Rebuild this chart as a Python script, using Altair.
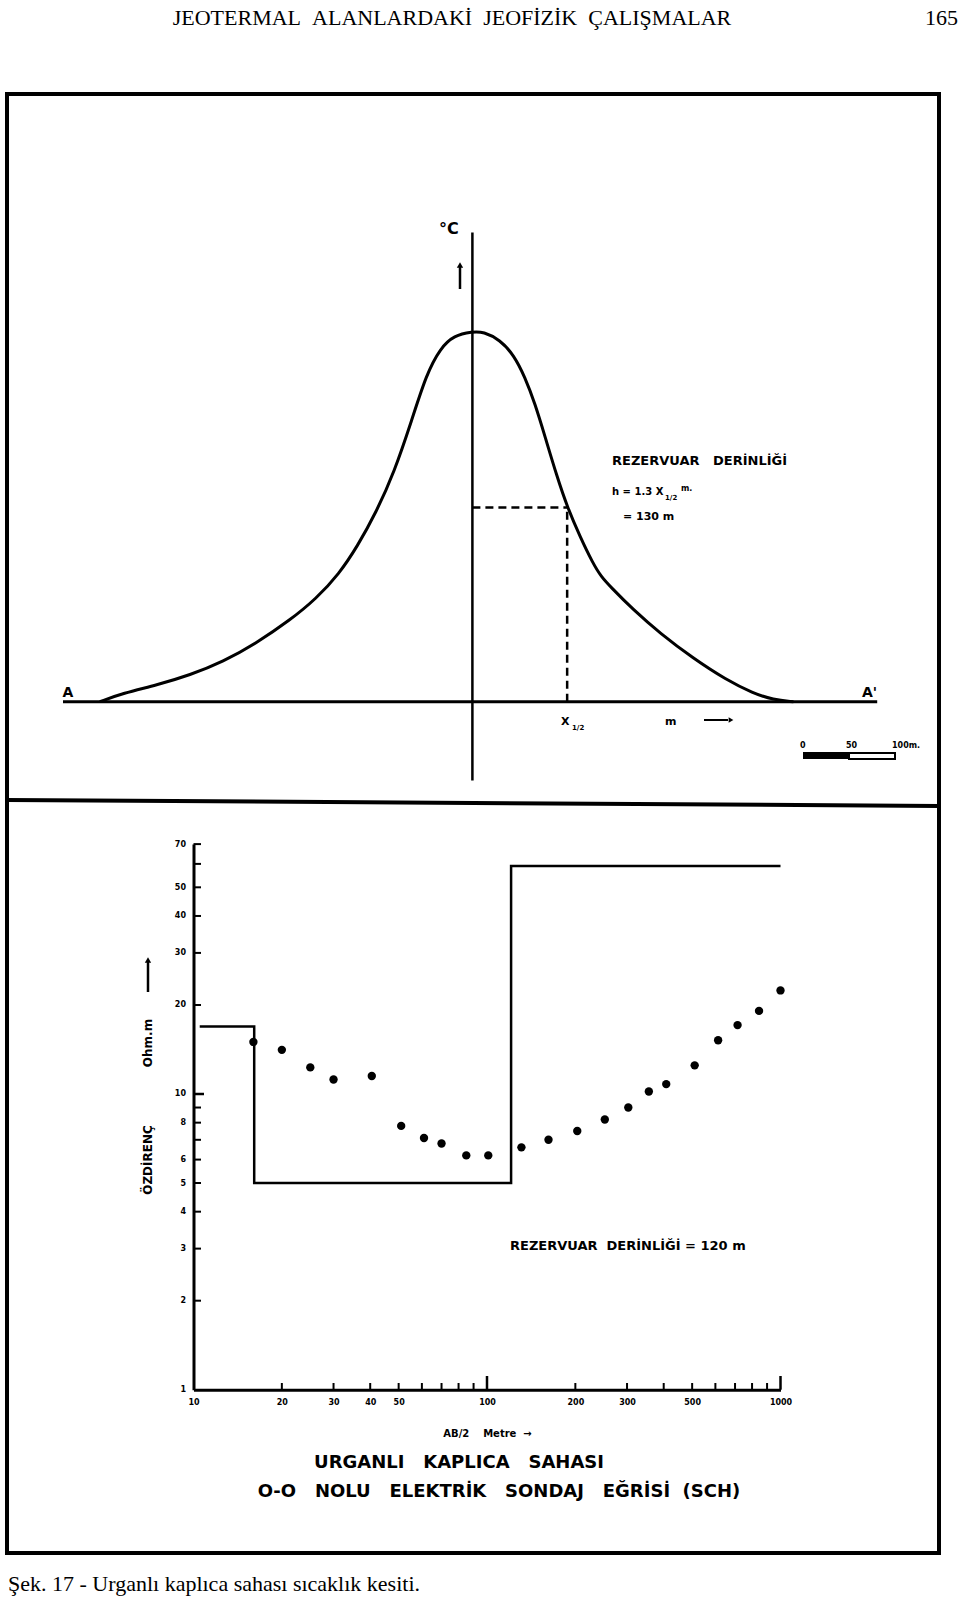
import altair as alt
import pandas as pd

NB = "\u00a0"

# ---------------- texts ----------------
header = f"JEOTERMAL{NB}{NB}ALANLARDAKİ{NB}{NB}JEOFİZİK{NB}{NB}ÇALIŞMALAR"
page_no = "165"
caption = "Şek. 17 - Urganlı kaplıca sahası sıcaklık kesiti."

# ---------------- top panel: temperature profile A-A' ----------------
curve_m = [-405, -380, -343, -307, -271, -235, -198, -170, -145, -125, -105, -85, -66, -50,
           -35, -20, 0, 12, 30, 45, 57, 68, 79, 92, 103, 117, 131, 140, 150, 175, 204, 240,
           276, 305, 327, 349]
curve_t = [0.0, 0.023, 0.045, 0.072, 0.108, 0.158, 0.221, 0.278, 0.345, 0.42, 0.51, 0.62,
           0.76, 0.885, 0.955, 0.99, 1.0, 1.0, 0.978, 0.937, 0.878, 0.806, 0.716, 0.608,
           0.527, 0.446, 0.374, 0.338, 0.311, 0.248, 0.185, 0.117, 0.059, 0.023, 0.005, 0.0]
x_half = 103
t_half = 0.525
profile_span = [-445, 440]
axis_t_span = [-0.213, 1.268]
scalebar_ticks = [0, 50, 100]
scalebar_labels = ["0", "50", "100m."]

# ---------------- bottom panel: VES curve ----------------
ab2 = [16, 20, 25, 30, 40.5, 51, 61, 70, 85, 101, 131, 162, 203, 252, 303, 356, 408, 510,
       613, 714, 845, 1000]
rho = [15.0, 14.1, 12.3, 11.2, 11.5, 7.8, 7.1, 6.8, 6.2, 6.2, 6.6, 7.0, 7.5, 8.2, 9.0, 10.2,
       10.8, 12.5, 15.2, 17.1, 19.1, 22.4]
model_x = [10.5, 16.1, 16.1, 120.8, 120.8, 1000]
model_y = [16.9, 16.9, 5.0, 5.0, 59, 59]
x_labels = [10, 20, 30, 40, 50, 100, 200, 300, 500, 1000]
y_labels = [1, 2, 3, 4, 5, 6, 8, 10, 20, 30, 40, 50, 70]
x_minor = [20, 30, 40, 50, 60, 70, 80, 90, 200, 300, 400, 500, 600, 700, 800, 900]
x_major = [100, 1000]
y_minor = [2, 3, 4, 5, 6, 7, 8, 9, 20, 30, 40, 50, 60, 70]

one = pd.DataFrame({"a": [0]})
FONT = "DejaVu Sans"

TX = alt.Scale(domain=[-500, 500], range=[12.4, 932.4], nice=False, zero=False)
TY = alt.Scale(domain=[0, 1], range=[701.7, 331.7], nice=False, zero=False)
SB = alt.Scale(domain=[0, 100], range=[803, 895], nice=False, zero=False)
BX = alt.Scale(type="log", domain=[10, 1000], range=[193.5, 780.5], nice=False)
BY = alt.Scale(type="log", domain=[1, 70], range=[1389.7, 844.1], nice=False)


def txt(s, x, y, size, font=FONT, weight="bold", align="left", baseline="alphabetic", angle=0):
    return alt.Chart(one).mark_text(
        text=s, font=font, fontSize=size, fontWeight=weight, align=align,
        baseline=baseline, angle=angle, color="black"
    ).encode(x=alt.value(x), y=alt.value(y))


def tri(x, y, shape, size=45):
    return alt.Chart(one).mark_point(shape=shape, filled=True, color="black", size=size,
                                     opacity=1).encode(x=alt.value(x), y=alt.value(y))


def vrule(x, y1, y2, w=2):
    return alt.Chart(one).mark_rule(color="black", strokeWidth=w).encode(
        x=alt.value(x), y=alt.value(y1), y2=alt.value(y2))


def hrule(x1, x2, y, w=2):
    return alt.Chart(one).mark_rule(color="black", strokeWidth=w).encode(
        x=alt.value(x1), x2=alt.value(x2), y=alt.value(y))


layers = []

# frame and divider
layers.append(alt.Chart(one).mark_rect(fillOpacity=0, stroke="black", strokeWidth=4).encode(
    x=alt.value(7), x2=alt.value(939), y=alt.value(94), y2=alt.value(1553)))
layers.append(alt.Chart(one).mark_rule(color="black", strokeWidth=4).encode(
    x=alt.value(7), x2=alt.value(939), y=alt.value(800), y2=alt.value(806)))

# header and caption
layers.append(txt(header, 452, 25, 22, font="Liberation Serif", weight="normal", align="center"))
layers.append(txt(page_no, 958, 25, 22, font="Liberation Serif", weight="normal", align="right"))
layers.append(txt(caption, 8, 1591, 22, font="Liberation Serif", weight="normal"))

# ---- top panel ----
curve_df = pd.DataFrame({"m": curve_m, "t": curve_t})
layers.append(alt.Chart(curve_df).mark_line(color="black", strokeWidth=3, interpolate="basis")
              .encode(x=alt.X("m:Q", scale=TX, axis=None), y=alt.Y("t:Q", scale=TY, axis=None)))

base_df = pd.DataFrame({"m0": [profile_span[0]], "m1": [profile_span[1]], "t": [0]})
layers.append(alt.Chart(base_df).mark_rule(color="black", strokeWidth=3).encode(
    x=alt.X("m0:Q", scale=TX, axis=None), x2="m1:Q", y=alt.Y("t:Q", scale=TY, axis=None)))

vax_df = pd.DataFrame({"m": [0], "t0": [axis_t_span[0]], "t1": [axis_t_span[1]]})
layers.append(alt.Chart(vax_df).mark_rule(color="black", strokeWidth=2.5).encode(
    x=alt.X("m:Q", scale=TX, axis=None), y=alt.Y("t0:Q", scale=TY, axis=None), y2="t1:Q"))

hd_df = pd.DataFrame({"m0": [0], "m1": [x_half], "t": [t_half]})
layers.append(alt.Chart(hd_df).mark_rule(color="black", strokeWidth=2.5, strokeDash=[8, 5]).encode(
    x=alt.X("m0:Q", scale=TX, axis=None), x2="m1:Q", y=alt.Y("t:Q", scale=TY, axis=None)))
vd_df = pd.DataFrame({"m": [x_half], "t0": [0], "t1": [t_half]})
layers.append(alt.Chart(vd_df).mark_rule(color="black", strokeWidth=2.5, strokeDash=[8, 5]).encode(
    x=alt.X("m:Q", scale=TX, axis=None), y=alt.Y("t0:Q", scale=TY, axis=None), y2="t1:Q"))

layers.append(txt("°C", 439, 234, 16))
layers.append(vrule(460, 289, 266, 2.5))
layers.append(tri(460, 265, "triangle-up", 40))
layers.append(txt("A", 68, 697, 14, align="center"))
layers.append(txt("A'", 862, 697, 14))
layers.append(txt("X", 561, 725, 11))
layers.append(txt("1/2", 572, 730, 7))
layers.append(txt("m", 665, 725, 11))
layers.append(hrule(704, 728, 720, 2))
layers.append(tri(731, 720, "triangle-right", 30))

layers.append(txt(f"REZERVUAR{NB}{NB}{NB}DERİNLİĞİ", 612, 465, 13))
layers.append(txt("h = 1.3 X", 612, 495, 10))
layers.append(txt("1/2", 665, 500, 7))
layers.append(txt("m.", 681, 491, 8))
layers.append(txt("= 130 m", 623, 520, 11))

# scale bar
sb1 = pd.DataFrame({"a": [0], "b": [50]})
layers.append(alt.Chart(sb1).mark_rect(color="black").encode(
    x=alt.X("a:Q", scale=SB, axis=None), x2="b:Q", y=alt.value(752), y2=alt.value(759)))
sb2 = pd.DataFrame({"a": [50], "b": [100]})
layers.append(alt.Chart(sb2).mark_rect(fillOpacity=0, stroke="black", strokeWidth=2).encode(
    x=alt.X("a:Q", scale=SB, axis=None), x2="b:Q", y=alt.value(753), y2=alt.value(759)))
sbl = pd.DataFrame({"v": scalebar_ticks, "lab": scalebar_labels})
layers.append(alt.Chart(sbl).mark_text(font=FONT, fontSize=8, fontWeight="bold", color="black",
                                       baseline="alphabetic", align="left", dx=-3).encode(
    x=alt.X("v:Q", scale=SB, axis=None), y=alt.value(748), text="lab:N"))

# ---- bottom panel ----
dots = pd.DataFrame({"ab2": ab2, "rho": rho})
layers.append(alt.Chart(dots).mark_circle(color="black", size=70, opacity=1).encode(
    x=alt.X("ab2:Q", scale=BX,
            axis=alt.Axis(orient="bottom", offset=-(1600 - 1389.7), values=x_labels,
                          format="~g", grid=False, ticks=False, tickSize=0,
                          domain=True, domainColor="black", domainWidth=3,
                          labelFont=FONT, labelFontWeight="bold", labelFontSize=8,
                          labelColor="black", labelPadding=9, labelFlush=False,
                          labelOverlap=False,
                          title=f"AB/2{NB}{NB}{NB}{NB}Metre{NB}{NB}→", titleFont=FONT,
                          titleFontSize=10, titleFontWeight="bold", titleColor="black",
                          titlePadding=22)),
    y=alt.Y("rho:Q", scale=BY,
            axis=alt.Axis(orient="left", offset=-193.5, values=y_labels, format="~g",
                          grid=False, ticks=False, tickSize=0, domain=True,
                          domainColor="black", domainWidth=3, labelFont=FONT,
                          labelFontWeight="bold", labelFontSize=8, labelColor="black",
                          labelPadding=8, labelFlush=False, labelOverlap=False, title=""))))

model = pd.DataFrame({"x": model_x, "y": model_y, "i": list(range(len(model_x)))})
layers.append(alt.Chart(model).mark_line(color="black", strokeWidth=2.5).encode(
    x=alt.X("x:Q", scale=BX, axis=None), y=alt.Y("y:Q", scale=BY, axis=None), order="i:Q"))

ytk = pd.DataFrame({"v": y_minor})
layers.append(alt.Chart(ytk).mark_rule(color="black", strokeWidth=2).encode(
    y=alt.Y("v:Q", scale=BY, axis=None), x=alt.value(193.5), x2=alt.value(201)))
ytk10 = pd.DataFrame({"v": [10]})
layers.append(alt.Chart(ytk10).mark_rule(color="black", strokeWidth=2.5).encode(
    y=alt.Y("v:Q", scale=BY, axis=None), x=alt.value(193.5), x2=alt.value(204)))
xtk = pd.DataFrame({"v": x_minor})
layers.append(alt.Chart(xtk).mark_rule(color="black", strokeWidth=2).encode(
    x=alt.X("v:Q", scale=BX, axis=None), y=alt.value(1389.7), y2=alt.value(1383)))
xtk2 = pd.DataFrame({"v": x_major})
layers.append(alt.Chart(xtk2).mark_rule(color="black", strokeWidth=2.5).encode(
    x=alt.X("v:Q", scale=BX, axis=None), y=alt.value(1389.7), y2=alt.value(1376)))

layers.append(txt("ÖZDİRENÇ", 148, 1160, 12, align="center", baseline="middle", angle=270))
layers.append(txt("Ohm.m", 148, 1043, 12, align="center", baseline="middle", angle=270))
layers.append(vrule(148, 992, 962, 2.5))
layers.append(tri(148, 960, "triangle-up", 40))

layers.append(txt(f"REZERVUAR{NB}{NB}DERİNLİĞİ{NB}={NB}120 m", 510, 1250, 13))
layers.append(txt(f"URGANLI{NB}{NB}{NB}KAPLICA{NB}{NB}{NB}SAHASI", 459, 1468, 18, align="center"))
layers.append(txt(f"O-O{NB}{NB}{NB}NOLU{NB}{NB}{NB}ELEKTRİK{NB}{NB}{NB}SONDAJ{NB}{NB}{NB}EĞRİSİ{NB}{NB}(SCH)",
                  499, 1497, 18, align="center"))

chart = alt.layer(*layers).resolve_scale(x="independent", y="independent").properties(
    width=960, height=1600, padding=0, background="white",
    autosize=alt.AutoSizeParams(type="none")
).configure_view(stroke="transparent")

chart.save("out.html", embed_options={"renderer": "svg", "actions": False})
